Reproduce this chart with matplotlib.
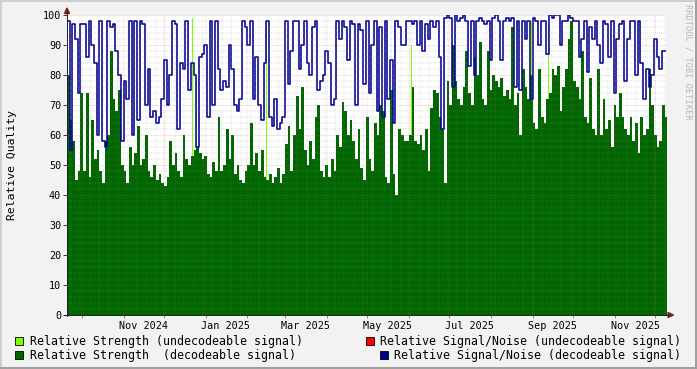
import pandas as pd
import matplotlib
matplotlib.use("Agg")
import matplotlib.pyplot as plt
from matplotlib.lines import Line2D
from matplotlib.patches import Polygon, Rectangle

W, H = 697, 369

# ---------------- data ----------------
start_date = "2024-09-20"
end_date = "2025-12-09"
sample_step = "2D"

strength_decodeable = [
    80, 65, 58, 45, 48, 74,
    48, 74, 46, 65, 52, 55, 48, 44, 58, 60, 88, 72, 68, 75, 50, 48,
    44, 56, 50, 54, 63, 50, 52, 60, 48, 46, 50, 45, 47, 44, 43,
    46, 58, 50, 54, 48, 46, 60, 52, 50, 53, 55, 56, 54, 52, 53,
    47, 46, 51, 48, 66, 48, 50, 62, 52, 60, 47, 50, 45, 44, 48,
    50, 64, 50, 54, 48, 55, 46, 45, 47, 44, 46, 49, 44, 47,
    57, 63, 48, 60, 73, 62, 76, 55, 50, 58, 52, 66, 70, 48, 46,
    50, 46, 52, 48, 60, 56, 71, 68, 60, 65, 58, 52, 62, 49, 45,
    66, 52, 48, 64, 60, 70, 68, 46, 44, 75, 47, 40, 62, 60, 58, 58,
    60, 76, 58, 57, 60, 55, 62, 48, 69, 75, 74, 66, 62, 44, 78,
    70, 90, 78, 72, 70, 76, 88, 74, 70, 86, 80, 91, 72, 70, 88, 75,
    80, 78, 76, 79, 73, 75, 72, 96, 70, 74, 60, 82, 76, 72, 80, 64,
    62, 82, 66, 64, 72, 74, 82, 80, 83, 68, 76, 82, 92, 98, 78,
    76, 72, 88, 66, 64, 79, 62, 60, 82, 60, 72, 62, 65, 56, 70, 66,
    74, 66, 62, 60, 66, 58, 64, 54, 66, 60, 62, 82, 70, 60, 56, 58, 70, 66, 70,
]

snr_decodeable = [
    98, 55, 97, 92, 74, 97,
    97, 86, 98, 90, 84, 60, 98, 58, 56, 98, 96, 97, 88, 80, 58, 78,
    72, 98, 60, 98, 65, 98, 97, 70, 82, 66, 68, 64, 66, 72, 85,
    70, 80, 98, 97, 62, 84, 82, 98, 75, 84, 80, 56, 86, 87, 90,
    66, 98, 70, 98, 82, 75, 78, 76, 90, 82, 70, 68, 72, 98, 96,
    90, 98, 72, 86, 70, 65, 84, 98, 66, 63, 72, 62, 64, 66,
    98, 77, 88, 98, 98, 82, 90, 98, 84, 80, 96, 98, 75, 78, 80,
    88, 84, 70, 72, 98, 92, 98, 96, 85, 98, 97, 70, 97, 95, 77,
    98, 74, 90, 98, 68, 96, 66, 98, 72, 85, 64, 98, 96, 90, 90, 98,
    98, 97, 98, 90, 98, 88, 97, 92, 98, 96, 98, 86, 62, 99, 100,
    99, 76, 100, 98, 99, 100, 98, 83, 98, 80, 98, 99, 98, 97, 98, 85,
    99, 100, 98, 85, 98, 99, 98, 99, 76, 98, 75, 98, 92, 98, 72, 99,
    98, 90, 98, 98, 87, 100, 99, 100, 100, 90, 98, 98, 100, 99, 98,
    98, 86, 92, 98, 81, 96, 92, 98, 90, 84, 98, 97, 86, 98, 74, 92,
    97, 98, 78, 92, 98, 98, 80, 98, 84, 72, 82, 76, 80, 92, 86, 82, 88, 88, 76,
]

undecodeable_dates = ["2024-12-22", "2025-02-15", "2025-06-03", "2025-08-31", "2025-09-13"]
undecodeable_strength = [99, 96, 90, 98, 97]

y_ticks = list(range(0, 101, 10))
x_label_months = ["2024-11-01", "2025-01-01", "2025-03-01", "2025-05-01",
                  "2025-07-01", "2025-09-01", "2025-11-01"]
x_label_texts = ["Nov 2024", "Jan 2025", "Mar 2025", "May 2025",
                 "Jul 2025", "Sep 2025", "Nov 2025"]

legend_entries = [
    ("Relative Strength (undecodeable signal)", "#80FF00"),
    ("Relative Strength  (decodeable signal)", "#006600"),
    ("Relative Signal/Noise (undecodeable signal)", "#FF0000"),
    ("Relative Signal/Noise (decodeable signal)", "#000090"),
]

# ---------------- styling ----------------
MONO = "DejaVu Sans Mono"
BG = "#F2F2F2"
GRID = "#8F8F8F"
MGRID = "#DE4F4F"
AXIS = "#1F1F1F"
ARROW = "#801F1F"
plt.rcParams["lines.scale_dashes"] = False
DOT = (0, (0.72, 0.72))


def fx(x):
    return x / W


def fy(y):
    return 1 - y / H


fig = plt.figure(figsize=(W / 100, H / 100), dpi=100, facecolor=BG)
ax = fig.add_axes([fx(67), fy(315), 599 / W, 300 / H])
ax.set_facecolor("white")

dates = pd.date_range(start_date, periods=len(strength_decodeable), freq=sample_step)

ax.bar(pd.to_datetime(undecodeable_dates), undecodeable_strength, width=0.75,
       color=legend_entries[0][1], linewidth=0, zorder=2)
ax.fill_between(dates, 0, strength_decodeable, step="post",
                color=legend_entries[1][1], linewidth=0, zorder=3)
ax.step(dates, snr_decodeable, where="post", color=legend_entries[3][1],
        linewidth=1.15, zorder=4)

ax.set_xlim(pd.Timestamp(start_date), pd.Timestamp(end_date))
ax.set_ylim(0, 100)

# grid (drawn above data like rrdtool)
for v in range(2, 100, 2):
    if v % 10:
        ax.axhline(v, color=GRID, alpha=0.6, lw=0.35, ls=DOT, zorder=5)
for v in range(10, 101, 10):
    ax.axhline(v, color=MGRID, alpha=0.55, lw=0.4, ls=DOT, zorder=5)
for d in pd.date_range(start_date, end_date, freq="W-MON"):
    ax.axvline(d, color=GRID, alpha=0.45, lw=0.35, ls=DOT, zorder=5)
months = pd.date_range("2024-10-01", end_date, freq="MS")
for d in months:
    ax.axvline(d, color=MGRID, alpha=0.45, lw=0.35, ls=DOT, zorder=5)

for s in ax.spines.values():
    s.set_visible(False)

ax.set_yticks(y_ticks)
ax.set_yticklabels([str(v) for v in y_ticks], family=MONO, fontsize=7.3)
ax.tick_params(axis="y", length=2.6, width=0.6, color=AXIS, pad=1.6)

ax.set_xticks(months)
ax.set_xticklabels([])
ax.tick_params(axis="x", which="major", length=2.2, width=0.6, color=MGRID)
label_pos = [pd.Timestamp(m) + pd.Timedelta(days=15) for m in x_label_months]
ax.set_xticks(label_pos, minor=True)
ax.set_xticklabels(x_label_texts, minor=True, family=MONO, fontsize=7.3)
ax.tick_params(axis="x", which="minor", length=0, pad=4.2)

# axes lines and arrows
fig.add_artist(Line2D([fx(67), fx(67)], [fy(316), fy(12)], color=AXIS, lw=0.7))
fig.add_artist(Line2D([fx(64), fx(669)], [fy(315), fy(315)], color=AXIS, lw=0.7))
fig.add_artist(Polygon([(fx(64.5), fy(13.5)), (fx(69.5), fy(13.5)), (fx(67), fy(8))],
                       closed=True, color=ARROW, transform=fig.transFigure))
fig.add_artist(Polygon([(fx(668), fy(312.5)), (fx(668), fy(317.5)), (fx(673.5), fy(315))],
                       closed=True, color=ARROW, transform=fig.transFigure))

# labels
fig.text(fx(12), fy(165), "Relative Quality", rotation=90, ha="center", va="center",
         family=MONO, fontsize=8.2)
fig.text(fx(688), fy(4), "RRDTOOL / TOBI OETIKER", rotation=270, ha="center", va="top",
         family=MONO, fontsize=6.2, color="#B8B8B8")

# legend
legend_layout = [
    (15, 337, 30, 345),
    (15, 350.5, 30, 358.7),
    (366, 337, 380, 345),
    (379.5, 350.5, 394, 358.7),
]
for (text, col), (bx, by, tx, ty) in zip(legend_entries, legend_layout):
    fig.add_artist(Rectangle((fx(bx), fy(by + 8)), 8 / W, 8 / H, transform=fig.transFigure,
                             facecolor=col, edgecolor="black", linewidth=0.6))
    fig.text(fx(tx), fy(ty), text, ha="left", va="baseline", family=MONO, fontsize=8.35)

# rrdtool 3d frame
fig.add_artist(Line2D([0, 1], [fy(0.5), fy(0.5)], color="#CFCFCF", lw=1.4))
fig.add_artist(Line2D([fx(0.5), fx(0.5)], [0, 1], color="#CFCFCF", lw=1.4))
fig.add_artist(Line2D([0, 1], [fy(368), fy(368)], color="#9E9E9E", lw=1.4))
fig.add_artist(Line2D([fx(696), fx(696)], [0, 1], color="#9E9E9E", lw=1.4))

fig.savefig("out.png", dpi=100, facecolor=BG)
